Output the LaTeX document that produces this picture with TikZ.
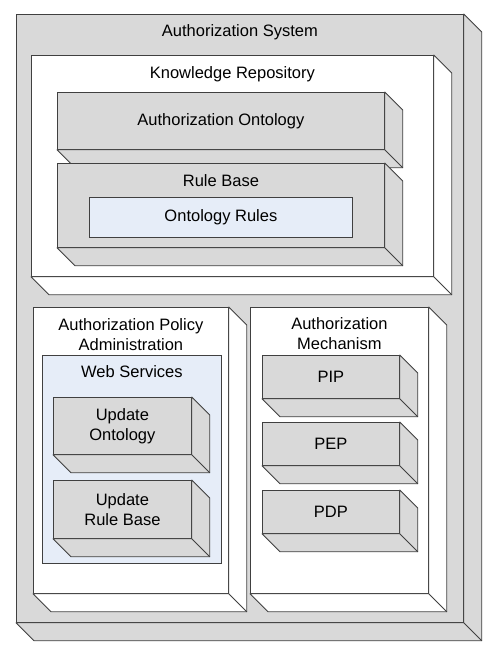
\documentclass[tikz,border=0pt]{standalone}
\usepackage{fontspec}
\setmainfont{Liberation Sans}
\usetikzlibrary{calc}

\definecolor{boxgray}{HTML}{D9D9D9}
\definecolor{paneblue}{HTML}{E6EDF8}
\definecolor{edgegray}{HTML}{404040}

\tikzset{
  front/.style={draw=edgegray, line width=0.8pt, anchor=north west, inner sep=0pt, align=center},
  title/.style={anchor=center, align=center},
}

% side and bottom faces of a 3D box, drawn below-right of the front
\newcommand{\sidefaces}[2]{
  \draw[draw=edgegray, line width=0.8pt, line join=round, fill=#2] (#1.north east) -- ++(18,18) -- ($(#1.south east)+(18,18)$) -- ($(#1.south west)+(18,18)$) -- (#1.south west) -- (#1.south east) -- cycle;
  \draw[draw=edgegray, line width=0.8pt] (#1.south east) -- ++(18,18);
}

\begin{document}
\begin{tikzpicture}[x=1pt, y=-1pt, font=\fontsize{16.5}{20}\selectfont]
  \useasboundingbox (0,0) rectangle (492,655);
  \node[front, fill=boxgray, minimum width=447pt, minimum height=608pt, label={[title, yshift=-18pt]north:Authorization System}] (sys) at (16,14) {};
  \sidefaces{sys}{boxgray}
  \node[front, fill=white, minimum width=402pt, minimum height=221pt, label={[title, yshift=-19pt]north:Knowledge Repository}] (repo) at (31,55) {};
  \sidefaces{repo}{white}
  \node[front, fill=boxgray, minimum width=327pt, minimum height=57pt] (onto) at (57,92) {Authorization Ontology};
  \sidefaces{onto}{boxgray}
  \node[front, fill=boxgray, minimum width=327pt, minimum height=84pt, label={[title, yshift=-18pt]north:Rule Base}] (rules) at (57,163) {};
  \sidefaces{rules}{boxgray}
  \node[front, fill=paneblue, minimum width=263pt, minimum height=40pt] (ontorules) at (89,197) {Ontology Rules};
  \node[front, fill=white, minimum width=195pt, minimum height=286pt, label={[title, yshift=-28pt]north:Authorization Policy\\Administration}] (apa) at (33,307) {};
  \sidefaces{apa}{white}
  \node[front, fill=paneblue, minimum width=179pt, minimum height=208pt, label={[title, yshift=-17pt]north:Web Services}] (ws) at (42,355) {};
  \node[front, fill=boxgray, minimum width=138pt, minimum height=57pt] (updonto) at (53,397) {Update\\Ontology};
  \sidefaces{updonto}{boxgray}
  \node[front, fill=boxgray, minimum width=138pt, minimum height=58pt] (updrules) at (53,480) {Update\\Rule Base};
  \sidefaces{updrules}{boxgray}
  \node[front, fill=white, minimum width=178pt, minimum height=286pt, label={[title, yshift=-27pt]north:Authorization\\Mechanism}] (am) at (250,307) {};
  \sidefaces{am}{white}
  \node[front, fill=boxgray, minimum width=137pt, minimum height=43pt] (pip) at (262,355) {PIP};
  \node[front, fill=boxgray, minimum width=137pt, minimum height=43pt] (pep) at (262,422) {PEP};
  \node[front, fill=boxgray, minimum width=137pt, minimum height=43pt] (pdp) at (262,490) {PDP};
  \foreach \n in {pip, pep, pdp}
    \sidefaces{\n}{boxgray};
\end{tikzpicture}
\end{document}
